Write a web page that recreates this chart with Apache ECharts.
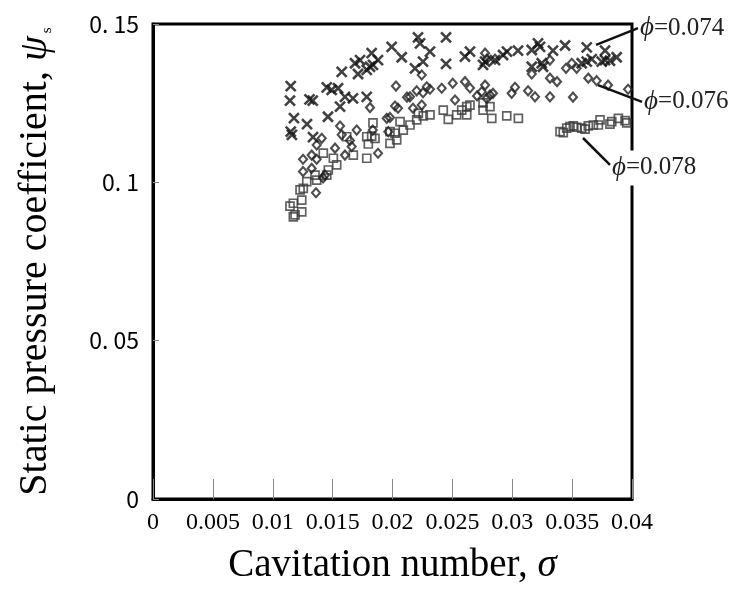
<!DOCTYPE html>
<html><head><meta charset="utf-8">
<script src="https://cdn.jsdelivr.net/npm/echarts@6/dist/echarts.min.js"></script>
<style>html,body{margin:0;padding:0;background:#fff}#c{width:731px;height:603px}</style>
</head><body><div id="c"></div>
<script>
// ---- data: [sigma, psi_s] ----
var phi074 = [
 [0.0115,0.1304],[0.01144,0.1258],[0.01177,0.1203],[0.0115,0.1160],[0.0116,0.1150],
 [0.01307,0.1262],[0.01334,0.1258],[0.01286,0.1184],[0.01336,0.1143],[0.01451,0.1300],
 [0.01492,0.1292],[0.01545,0.1297],[0.01461,0.1207],[0.01562,0.1239],[0.01603,0.1270],
 [0.0167,0.1265],[0.01576,0.1349],[0.01687,0.1376],[0.01729,0.1386],[0.01712,0.1342],
 [0.01785,0.1355],[0.01812,0.1365],[0.01837,0.1371],[0.01826,0.1408],[0.01879,0.1386],
 [0.01785,0.1270],[0.01993,0.1428],[0.02077,0.1395],[0.02213,0.1458],[0.0223,0.1439],
 [0.02313,0.1413],[0.02255,0.1381],[0.02188,0.1360],[0.02447,0.1458],[0.02447,0.1374],
 [0.02605,0.1397],[0.02647,0.1413],[0.02773,0.1381],[0.02756,0.1371],[0.02856,0.1386],
 [0.02923,0.1402],[0.02956,0.1413],[0.03048,0.1416],[0.03163,0.1418],[0.03215,0.1439],
 [0.03232,0.1428],[0.03163,0.1365],[0.03246,0.1376],[0.03257,0.1365],[0.0334,0.1416],
 [0.03441,0.1432],[0.03622,0.1426],[0.0358,0.1376],[0.03622,0.1381],[0.03664,0.1389],
 [0.03775,0.1416],[0.03747,0.1381],[0.03775,0.1386],[0.03816,0.1384],[0.03872,0.1395]
];
var phi076 = [
 [0.02244,0.1339],[0.02029,0.1304],[0.02202,0.1289],[0.02255,0.1283],[0.02286,0.1302],
 [0.02313,0.1294],[0.02411,0.1297],[0.02503,0.1313],[0.02605,0.1318],[0.02121,0.1269],
 [0.02146,0.1270],[0.02244,0.1244],[0.02021,0.1241],[0.02046,0.1234],[0.02171,0.1234],
 [0.01812,0.1236],[0.01562,0.1178],[0.01701,0.1165],[0.01952,0.1202],[0.01979,0.1205],
 [0.01576,0.1150],[0.01409,0.1139],[0.01367,0.1118],[0.01835,0.1165],[0.01965,0.1160],
 [0.01879,0.1092],[0.01659,0.1113],[0.01645,0.1132],[0.01603,0.1086],[0.0152,0.1108],
 [0.01325,0.1086],[0.01253,0.1073],[0.01367,0.1073],[0.01253,0.1034],[0.01325,0.1044],
 [0.01436,0.1023],[0.0142,0.1014],[0.01361,0.0967],[0.02773,0.1408],[0.02787,0.1389],
 [0.02856,0.1389],[0.03163,0.1342],[0.03315,0.1386],[0.03315,0.1329],[0.03374,0.1318],
 [0.03449,0.1360],[0.03497,0.1376],[0.03538,0.1360],[0.03635,0.1329],[0.03705,0.1321],
 [0.038,0.1307],[0.03967,0.1294],[0.02773,0.1307],[0.02745,0.1286],[0.02814,0.1276],
 [0.02839,0.1281],[0.02787,0.1265],[0.03023,0.1300],[0.02995,0.1281],[0.03132,0.1289],
 [0.0319,0.1270],[0.03315,0.1270],[0.03507,0.1269],[0.02522,0.1260],[0.02706,0.1273],
 [0.02647,0.1298]
];
var phi078 = [
 [0.01837,0.1188],[0.01785,0.1144],[0.01826,0.1146],[0.01979,0.1160],[0.02021,0.1155],
 [0.02063,0.1192],[0.02146,0.1181],[0.02216,0.1218],[0.02257,0.1210],[0.02313,0.1213],
 [0.02424,0.1228],[0.02466,0.1199],[0.02536,0.1213],[0.02578,0.1228],[0.0262,0.1239],
 [0.0262,0.1213],[0.01798,0.1121],[0.01854,0.1139],[0.01618,0.1144],[0.01673,0.1086],
 [0.01785,0.1076],[0.01534,0.1055],[0.01506,0.1076],[0.01422,0.1092],[0.01464,0.1039],
 [0.01451,0.1023],[0.01367,0.1007],[0.01353,0.1023],[0.01284,0.1002],[0.01255,0.0981],
 [0.01228,0.0976],[0.01242,0.0944],[0.01172,0.0934],[0.01144,0.0925],[0.01242,0.0907],
 [0.01186,0.0897],[0.01172,0.0891],[0.02035,0.1134],[0.01979,0.1123],[0.0209,0.1165],
 [0.02202,0.1197],[0.02647,0.1244],[0.02756,0.1251],[0.02814,0.1239],[0.02756,0.1228],
 [0.02829,0.1202],[0.02954,0.1210],[0.03051,0.1202],[0.03399,0.1160],[0.03426,0.1157],
 [0.03455,0.1171],[0.03482,0.1176],[0.0351,0.1178],[0.03538,0.1174],[0.0358,0.1171],
 [0.03608,0.1168],[0.03635,0.1178],[0.03677,0.1181],[0.03719,0.1181],[0.03733,0.1197],
 [0.03816,0.1184],[0.03831,0.1192],[0.03886,0.1202],[0.03942,0.1195],[0.03956,0.1188]
];
var yTickLabels = {'0':'0','0.05':'0. 05','0.1':'0. 1','0.15':'0. 15'};
var annoLabels = ['0.074','0.076','0.078'];
// leader lines: [from point, to point] in data units
var annoLines = [
 [[0.0370,0.1434],[0.0405,0.1487]],
 [[0.03716,0.1307],[0.04084,0.1254]],
 [[0.03591,0.1140],[0.03816,0.1055]]
];

var serif = '"Liberation Serif","DejaVu Serif",serif';
var chart = echarts.init(document.getElementById('c'));
chart.setOption({
  backgroundColor:'#fff',
  animation:false,
  grid:{left:153,right:99,top:24,bottom:104,show:true,borderColor:'#000',borderWidth:3,backgroundColor:'transparent'},
  xAxis:{type:'value',min:0,max:0.04,interval:0.005,
    name:'{n|Cavitation number, }{i|σ}',nameLocation:'middle',nameGap:47,
    nameTextStyle:{rich:{n:{fontFamily:serif,fontSize:39,color:'#000'},i:{fontFamily:serif,fontSize:39,fontStyle:'italic',color:'#000'}}},
    axisLine:{lineStyle:{color:'#000',width:3}},
    axisTick:{inside:true,length:20,lineStyle:{color:'#888',width:1}},
    axisLabel:{margin:12,formatter:function(v){return '{t|'+String(+v.toFixed(3))+'}';},
      rich:{t:{fontFamily:serif,fontSize:24,color:'#000'}}},
    splitLine:{show:false}},
  yAxis:{type:'value',min:0,max:0.15,interval:0.05,
    name:'{n|Static pressure coefficient, }{i|ψ}{s|s}',nameLocation:'middle',nameGap:98,
    nameTextStyle:{rich:{n:{fontFamily:serif,fontSize:40,color:'#000'},i:{fontFamily:serif,fontSize:40,fontStyle:'italic',color:'#000'},s:{fontFamily:serif,fontSize:15,color:'#000',verticalAlign:'bottom',padding:[0,0,0,3]}}},
    axisLine:{lineStyle:{color:'#000',width:3}},
    axisTick:{inside:true,length:6,lineStyle:{color:'#888',width:1}},
    axisLabel:{fontFamily:'"Noto Sans CJK JP","Noto Sans",sans-serif',fontSize:23,color:'#000',margin:14,
      formatter:function(v){var k=String(+v.toFixed(2));return yTickLabels[k]!==undefined?yTickLabels[k]:k;}},
    splitLine:{show:false}},
  series:[
    {type:'scatter',name:'0.078',data:phi078,symbol:'rect',symbolSize:8,
     itemStyle:{color:'rgba(255,255,255,0)',borderColor:'#3a3a3a',borderWidth:1.7}},
    {type:'scatter',name:'0.076',data:phi076,symbol:'diamond',symbolSize:[8,9],
     itemStyle:{color:'rgba(255,255,255,0)',borderColor:'#222',borderWidth:2.1}},
    {type:'scatter',name:'0.074',data:phi074,symbol:'path://M0,0L10,10M10,0L0,10',symbolSize:10,
     itemStyle:{color:'none',borderColor:'#111',borderWidth:2.6}}
  ]
});

var g = [];
for (var i=0;i<annoLines.length;i++){
  var p0 = chart.convertToPixel({gridIndex:0}, annoLines[i][0]);
  var p1 = chart.convertToPixel({gridIndex:0}, annoLines[i][1]);
  g.push({type:'line',shape:{x1:p0[0],y1:p0[1],x2:p1[0],y2:p1[1]},style:{stroke:'#111',lineWidth:2.5},z:10});
  g.push({type:'text',x:p1[0]+2,y:p1[1]+(i===2?3:0),z:11,
    style:{text:'{i|ϕ}{n|='+annoLabels[i]+'}',verticalAlign:'middle',align:'left',
      backgroundColor:i===2?'#fff':'transparent',padding:[4,0,4,0],
      rich:{i:{fontFamily:serif,fontSize:27,fontStyle:'italic',fill:'#222'},n:{fontFamily:serif,fontSize:25,fill:'#222'}}}});
}
chart.setOption({graphic:g});
</script></body></html>
